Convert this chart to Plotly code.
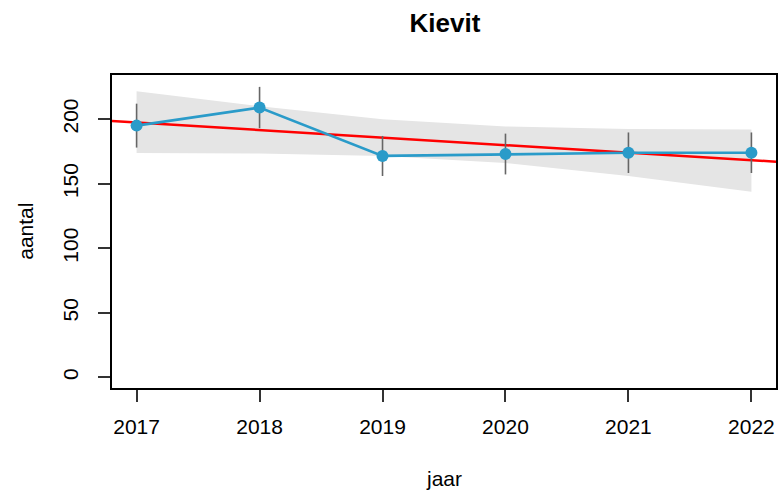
import plotly.graph_objects as go

years = [2017, 2018, 2019, 2020, 2021, 2022]
counts = [195.0, 209.0, 171.5, 173.0, 174.0, 174.0]
count_err = [17.0, 16.0, 15.5, 15.8, 15.7, 15.7]
band_upper = [221.6, 210.0, 199.9, 194.3, 192.4, 192.0]
band_lower = [173.8, 173.4, 171.5, 166.0, 156.0, 143.8]
trend_at_2017 = 197.4
trend_slope = -5.84
x_limits = [2016.8, 2022.2]
y_limits = [-8.2, 234.2]
y_ticks = [0, 50, 100, 150, 200]

FONT = "Liberation Sans, Arial, sans-serif"

fig = go.Figure()

# confidence band
fig.add_trace(go.Scatter(
    x=years + years[::-1],
    y=band_upper + band_lower[::-1],
    fill="toself", fillcolor="#E5E5E5", line=dict(width=0),
    mode="lines", hoverinfo="skip", showlegend=False))

# trend line (abline over the full axis range)
trend_y = [trend_at_2017 + trend_slope * (x - 2017) for x in x_limits]
fig.add_trace(go.Scatter(
    x=x_limits, y=trend_y, mode="lines",
    line=dict(color="#FF0000", width=2.5), showlegend=False))

# error bars
fig.add_trace(go.Scatter(
    x=years, y=counts, mode="markers",
    marker=dict(size=1, color="rgba(0,0,0,0)"),
    error_y=dict(type="data", array=count_err, visible=True,
                 color="#666666", thickness=1.6, width=0),
    showlegend=False))

# counts line + points
fig.add_trace(go.Scatter(
    x=years, y=counts, mode="lines+markers",
    line=dict(color="#2A9BC9", width=2.7),
    marker=dict(size=12, color="#2A9BC9"),
    showlegend=False))

axis_common = dict(
    showgrid=False, zeroline=False, showline=True, linecolor="#000000",
    linewidth=1.5, mirror=True, ticks="outside", ticklen=12,
    tickcolor="#333333", tickwidth=1.5,
    tickfont=dict(family=FONT, size=21, color="#000000"))

fig.update_xaxes(range=x_limits, tickvals=years,
                 ticktext=[str(y) for y in years],
                 ticklabelstandoff=7, **axis_common)
fig.update_yaxes(range=y_limits, tickvals=y_ticks,
                 ticktext=[str(v) for v in y_ticks],
                 tickangle=-90, ticklabelstandoff=12, **axis_common)

W, H = 782, 493
L, R, T, B = 112, 4, 75, 105
pw, ph = W - L - R, H - T - B

fig.update_layout(
    width=W, height=H,
    margin=dict(l=L, r=R, t=T, b=B),
    paper_bgcolor="white", plot_bgcolor="white",
    font=dict(family=FONT, color="#000000"),
    title=dict(text="<b>Kievit</b>", x=(445) / W, xanchor="center",
               xref="container", y=1 - 23 / H, yanchor="middle",
               font=dict(family=FONT, size=26, color="#000000")),
    annotations=[
        dict(text="jaar", xref="paper", yref="paper",
             x=0.5, y=-(479 - (T + ph)) / ph,
             xanchor="center", yanchor="middle", showarrow=False,
             font=dict(family=FONT, size=21, color="#000000")),
        dict(text="aantal", xref="paper", yref="paper",
             x=(25 - L) / pw, y=0.5, textangle=-90,
             xanchor="center", yanchor="middle", showarrow=False,
             font=dict(family=FONT, size=21, color="#000000")),
    ],
)

fig.write_html("out.html",
               config={"displayModeBar": False},
               post_script="document.body.style.margin='0';"
                           "document.body.style.overflow='hidden';")
